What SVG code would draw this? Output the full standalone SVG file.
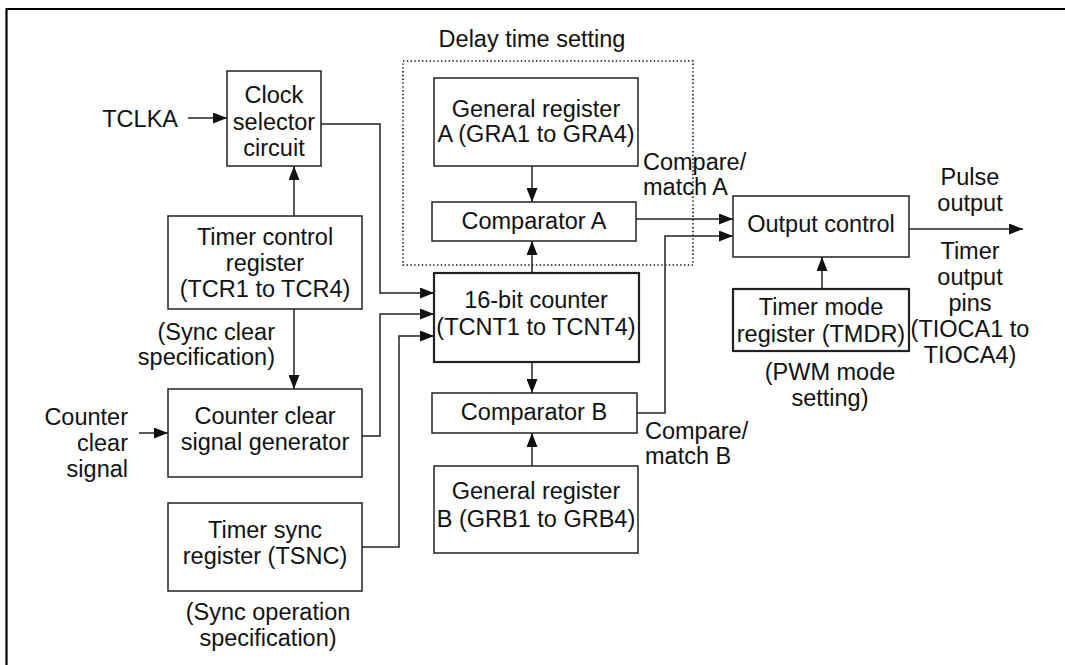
<svg xmlns="http://www.w3.org/2000/svg" width="1065" height="665" viewBox="0 0 1065 665">
<defs>
<style>
text{font-family:"Liberation Sans",Arial,sans-serif;font-size:23.5px;fill:#111}
.box{fill:#fff;stroke:#222;stroke-width:1.5}
.thick{stroke-width:2.2}
.c{text-anchor:middle}
.e{text-anchor:end}
.ln{fill:none;stroke:#222;stroke-width:1.5}
</style>
<marker id="ah" viewBox="0 0 14 11" refX="14" refY="5.5" markerWidth="14" markerHeight="11" orient="auto" markerUnits="userSpaceOnUse"><path d="M0,0 L14,5.5 L0,11 z" fill="#111"/></marker>
</defs>
<rect width="1065" height="665" fill="#fff"/>
<path d="M6.5,665 V9 H1065" fill="none" stroke="#000" stroke-width="2.2"/>

<g id="delay-group">
<rect x="403" y="61" width="290" height="204" fill="none" stroke="#111" stroke-width="1.6" stroke-dasharray="1.4,2.4"/>
<text class="c" x="532" y="47">Delay time setting</text>
</g>

<g id="connectors">
<path class="ln" d="M188,118 H227" marker-end="url(#ah)"/>
<path class="ln" d="M294,216 V166" marker-end="url(#ah)"/>
<path class="ln" d="M321,124 H380 V293 H434" marker-end="url(#ah)"/>
<path class="ln" d="M294,309 V389" marker-end="url(#ah)"/>
<path class="ln" d="M139,433 H168" marker-end="url(#ah)"/>
<path class="ln" d="M362,436 H380 V314 H434" marker-end="url(#ah)"/>
<path class="ln" d="M362,547 H399 V336 H434" marker-end="url(#ah)"/>
<path class="ln" d="M532,166 V202" marker-end="url(#ah)"/>
<path class="ln" d="M532,273 V241" marker-end="url(#ah)"/>
<path class="ln" d="M532,362 V393" marker-end="url(#ah)"/>
<path class="ln" d="M532,466 V433" marker-end="url(#ah)"/>
<path class="ln" d="M636,219 H733" marker-end="url(#ah)"/>
<path class="ln" d="M637,413 H665 V236 H733" marker-end="url(#ah)"/>
<path class="ln" d="M909,229 H1023" marker-end="url(#ah)"/>
<path class="ln" d="M822,289 V257" marker-end="url(#ah)"/>
</g>

<g id="labels">
<text class="e" x="178" y="127">TCLKA</text>
<text class="e" x="275" y="340">(Sync clear</text>
<text class="e" x="275" y="365">specification)</text>
<text class="e" x="128" y="425">Counter</text>
<text class="e" x="128" y="451">clear</text>
<text class="e" x="128" y="477">signal</text>
<text class="c" x="268" y="620">(Sync operation</text>
<text class="c" x="268" y="646">specification)</text>
<text x="643" y="170">Compare/</text>
<text x="643" y="195">match A</text>
<text x="645" y="439">Compare/</text>
<text x="645" y="464">match B</text>
<text class="c" x="970" y="185">Pulse</text>
<text class="c" x="970" y="211">output</text>
<text class="c" x="970" y="259">Timer</text>
<text class="c" x="970" y="285">output</text>
<text class="c" x="970" y="311">pins</text>
<text class="c" x="970" y="337">(TIOCA1 to</text>
<text class="c" x="970" y="363">TIOCA4)</text>
<text class="c" x="830" y="380">(PWM mode</text>
<text class="c" x="830" y="406">setting)</text>
</g>

<g id="clock-selector">
<rect class="box" x="227" y="71" width="94" height="95"/>
<text class="c" x="274" y="103">Clock</text>
<text class="c" x="274" y="130">selector</text>
<text class="c" x="274" y="156">circuit</text>
</g>

<g id="tcr">
<rect class="box" x="168" y="216" width="194" height="93"/>
<text class="c" x="265" y="245">Timer control</text>
<text class="c" x="265" y="271">register</text>
<text class="c" x="265" y="297">(TCR1 to TCR4)</text>
</g>

<g id="counter-clear-gen">
<rect class="box" x="168" y="389" width="194" height="88"/>
<text class="c" x="265" y="424">Counter clear</text>
<text class="c" x="265" y="450">signal generator</text>
</g>

<g id="tsnc">
<rect class="box" x="168" y="503" width="194" height="88"/>
<text class="c" x="265" y="538">Timer sync</text>
<text class="c" x="265" y="564">register (TSNC)</text>
</g>

<g id="gra">
<rect class="box" x="434" y="78" width="204" height="88"/>
<text class="c" x="536" y="117">General register</text>
<text class="c" x="536" y="142">A (GRA1 to GRA4)</text>
</g>

<g id="comparator-a">
<rect class="box" x="432" y="202" width="204" height="39"/>
<text class="c" x="534" y="229">Comparator A</text>
</g>

<g id="counter">
<rect class="box thick" x="434" y="273" width="205" height="89"/>
<text class="c" x="536" y="308">16-bit counter</text>
<text class="c" x="536" y="335">(TCNT1 to TCNT4)</text>
</g>

<g id="comparator-b">
<rect class="box" x="432" y="393" width="205" height="40"/>
<text class="c" x="534" y="420">Comparator B</text>
</g>

<g id="grb">
<rect class="box" x="434" y="466" width="204" height="87"/>
<text class="c" x="536" y="499">General register</text>
<text class="c" x="536" y="527">B (GRB1 to GRB4)</text>
</g>

<g id="output-control">
<rect class="box" x="733" y="196" width="176" height="61"/>
<text class="c" x="821" y="232">Output control</text>
</g>

<g id="tmdr">
<rect class="box thick" x="733" y="289" width="176" height="62"/>
<text class="c" x="821" y="315">Timer mode</text>
<text class="c" x="821" y="342">register (TMDR)</text>
</g>
</svg>
